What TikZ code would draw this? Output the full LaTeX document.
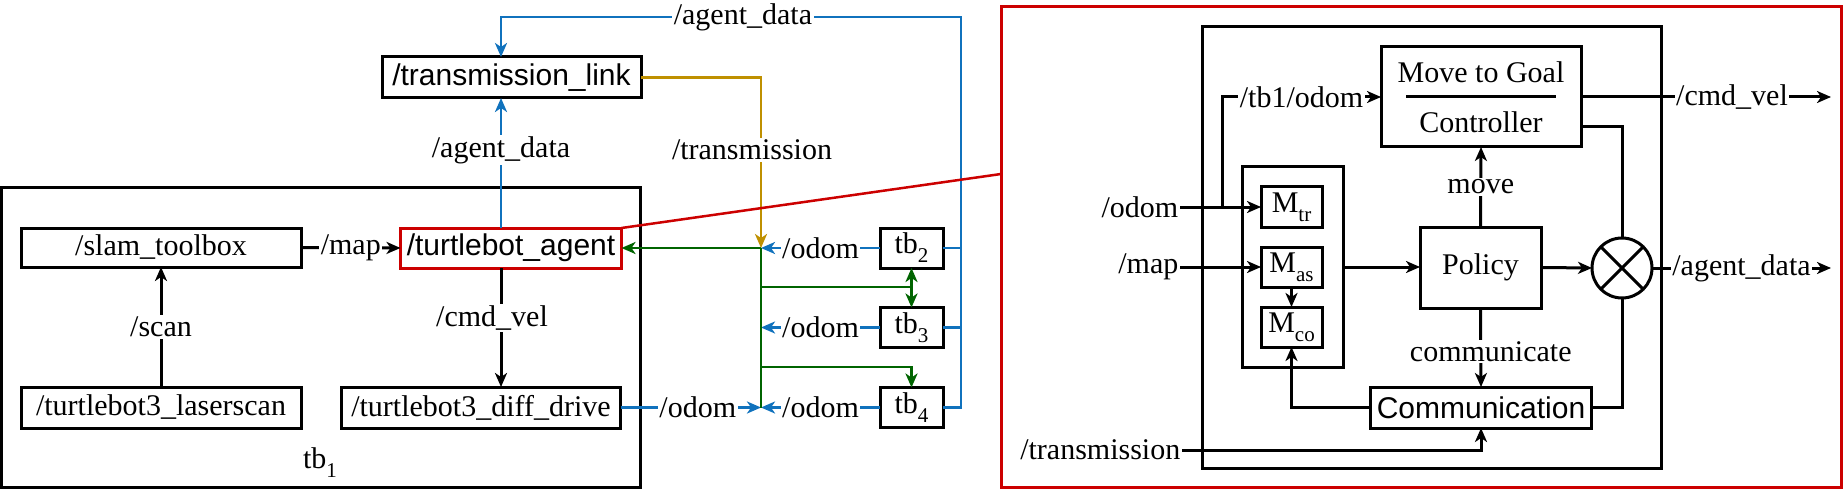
\documentclass[tikz,border=0pt]{standalone}
\usepackage{fontspec}
\setmainfont{Liberation Serif}
\newfontfamily\arialf{Liberation Sans}
\usetikzlibrary{arrows.meta,calc}
\definecolor{cblue}{RGB}{16,114,189}
\definecolor{cgreen}{RGB}{0,100,0}
\definecolor{cyel}{RGB}{191,144,0}
\definecolor{cred}{RGB}{204,0,0}
\newcommand\lsub[1]{\raisebox{-0.3em}{\fontsize{21}{21}\selectfont #1}}
\begin{document}
\begin{tikzpicture}[x=1pt,y=-1pt,
  every node/.style={font=\fontsize{30}{34}\selectfont},
  box/.style={draw, line width=3pt, inner sep=0pt, outer sep=0pt},
  sans/.style={font=\fontsize{30}{34}\selectfont\arialf},
  lbl/.style={fill=white, inner sep=1.5pt},
  bk/.style={draw=black, line width=3pt},
  bl/.style={draw=cblue, line width=2.5pt},
  gr/.style={draw=cgreen, line width=2.5pt},
  yl/.style={draw=cyel, line width=2.5pt},
  rd/.style={draw=cred, line width=2.5pt},
  >={Stealth[length=14pt,width=12pt,inset=4pt]}
]
\useasboundingbox (0,0) rectangle (1843,489);

% ---------- right zoom frame ----------
\node[box,draw=cred,minimum width=840,minimum height=480] (zf) at (1421.5,247) {};
\node[box,minimum width=459,minimum height=441] (inner) at (1431.5,247.5) {};

% ---------- left part ----------
\node[box,minimum width=639,minimum height=299] (tbframe) at (321,337.5) {};
\node (tbonelbl) at (320,463) {tb\lsub{1}};

\node[box,sans,minimum width=259,minimum height=41] (trans) at (511.5,77.5) {/transmission\_link};
\node[box,minimum width=280,minimum height=39] (slam) at (161,247.5) {/slam\_toolbox};
\node[box,sans,draw=cred,minimum width=221,minimum height=40] (agent) at (511,248) {/turtlebot\_agent};
\node[box,minimum width=280,minimum height=41] (laser) at (161,407.5) {/turtlebot3\_laserscan};
\node[box,minimum width=279,minimum height=41] (diff) at (481,407.5) {/turtlebot3\_diff\_drive};
\node[box,minimum width=63,minimum height=40] (tb2) at (911.5,248) {tb\lsub{2}};
\node[box,minimum width=63,minimum height=40] (tb3) at (911.5,327.5) {tb\lsub{3}};
\node[box,minimum width=63,minimum height=40] (tb4) at (911.5,407.5) {tb\lsub{4}};

\coordinate (ax) at (501,0);
\coordinate (jA) at (761,248);
\coordinate (jB) at (761,407.5);
\coordinate (jC) at (761,287);
\coordinate (jD) at (761,367);
\coordinate (busT) at (961,17);
\coordinate (busL) at (501,17);
\coordinate (zfL) at (1001,174);

% black connectors
\draw[bk,->] (laser.north) -- node[lbl]{/scan} (slam.south);
\draw[bk,->] (slam.east) -- node[lbl]{/map} (agent.west);
\draw[bk,->] (agent.south -| ax) -- node[lbl,pos=0.42,xshift=-9pt]{/cmd\_vel} (diff.north -| ax);

% blue connectors
\draw[bl,->] (agent.north -| ax) -- node[lbl,pos=0.6]{/agent\_data} (trans.south -| ax);
\draw[bl,->] (tb4.east) -| (busT) -- node[lbl,pos=0.474]{/agent\_data} (busL) -- (trans.north -| ax);
\draw[bl] (tb2.east) -- (tb2.east -| busT);
\draw[bl] (tb3.east) -- (tb3.east -| busT);
\draw[bl,->] (tb2.west) -- node[lbl]{/odom} (jA);
\draw[bl,->] (tb3.west) -- node[lbl]{/odom} (tb3.west -| jA);
\draw[bl,->] (tb4.west) -- node[lbl]{/odom} (jB);
\draw[bl,->] (diff.east) -- node[lbl,pos=0.55]{/odom} (jB);

% green connectors
\draw[gr] (jA) -- (jB);
\draw[gr,->] (jA) -- (agent.east);
\draw[gr] (jC) -- (jC -| tb2.south);
\draw[gr,<->] (tb2.south) -- (tb3.north);
\draw[gr,->] (jD) -| (tb4.north);

% yellow connector
\draw[yl,->] (trans.east) -| node[lbl,pos=0.7125,xshift=-9pt]{/transmission} (jA);

% red zoom line
\draw[rd] (agent.north east) -- (zfL);

% ---------- right detail ----------
\node[box,minimum width=200,minimum height=100] (ctrl) at (1481,97) {};
\node (ctrltop) at (1481,72) {Move to Goal};
\node (ctrlbot) at (1481,122) {Controller};
\draw[bk] ($(ctrl.center)+(-75,0)$) -- ($(ctrl.center)+(75,0)$);

\node[box,minimum width=101,minimum height=200] (mem) at (1292.5,267) {};
\node[box,minimum width=61,minimum height=40] (mtr) at (1291.5,207) {M\lsub{tr}};
\node[box,minimum width=61,minimum height=40] (mas) at (1291.5,267) {M\lsub{as}};
\node[box,minimum width=61,minimum height=40] (mco) at (1291.5,327) {M\lsub{co}};
\node[box,minimum width=121,minimum height=81] (policy) at (1480.5,267.5) {Policy};
\node[box,sans,minimum width=221,minimum height=41] (comm) at (1481,407.5) {Communication};
\node[draw,circle,line width=3pt,minimum size=60,inner sep=0pt,outer sep=0pt] (ox) at (1622,268) {};
\draw[bk] (ox.north west) -- (ox.south east);
\draw[bk] (ox.north east) -- (ox.south west);

\node[lbl,anchor=east] (odomin) at (1180,207) {/odom};
\node[lbl,anchor=east] (mapin) at (1180,267) {/map};
\node[lbl,anchor=east] (transin) at (1182,450) {/transmission};

\coordinate (split) at (1222,207);
\coordinate (ctrlB) at (1581,127);
\coordinate (cmdEnd) at (1831,97);
\coordinate (adEnd) at (1831,268);

\draw[bk,->] (odomin.east) -- (mtr.west);
\draw[bk,->] (split) |- node[lbl,pos=0.75]{/tb1/odom} (ctrl.west);
\draw[bk,->] (mapin.east) -- (mas.west);
\draw[bk,->] (transin.east) -| (comm.south);
\draw[bk,->] (mas.south) -- (mco.north);
\draw[bk,->] (mem.east |- mas.east) -- (policy.west |- mas.east);
\draw[bk,->] (policy.north) -- node[lbl]{move} (ctrl.south);
\draw[bk,->] (policy.south) -- node[lbl,pos=0.55,xshift=10pt]{communicate} (comm.north);
\draw[bk,->] (comm.west) -| (mco.south);
\draw[bk,->] (policy.east) -- (ox.west);
\draw[bk] (ctrlB) -| (ox.north);
\draw[bk] (comm.east) -| (ox.south);
\draw[bk,->] (ctrl.east) -- node[lbl,pos=0.604]{/cmd\_vel} (cmdEnd);
\draw[bk,->] (ox.east) -- node[lbl]{/agent\_data} (adEnd);
\end{tikzpicture}
\end{document}
